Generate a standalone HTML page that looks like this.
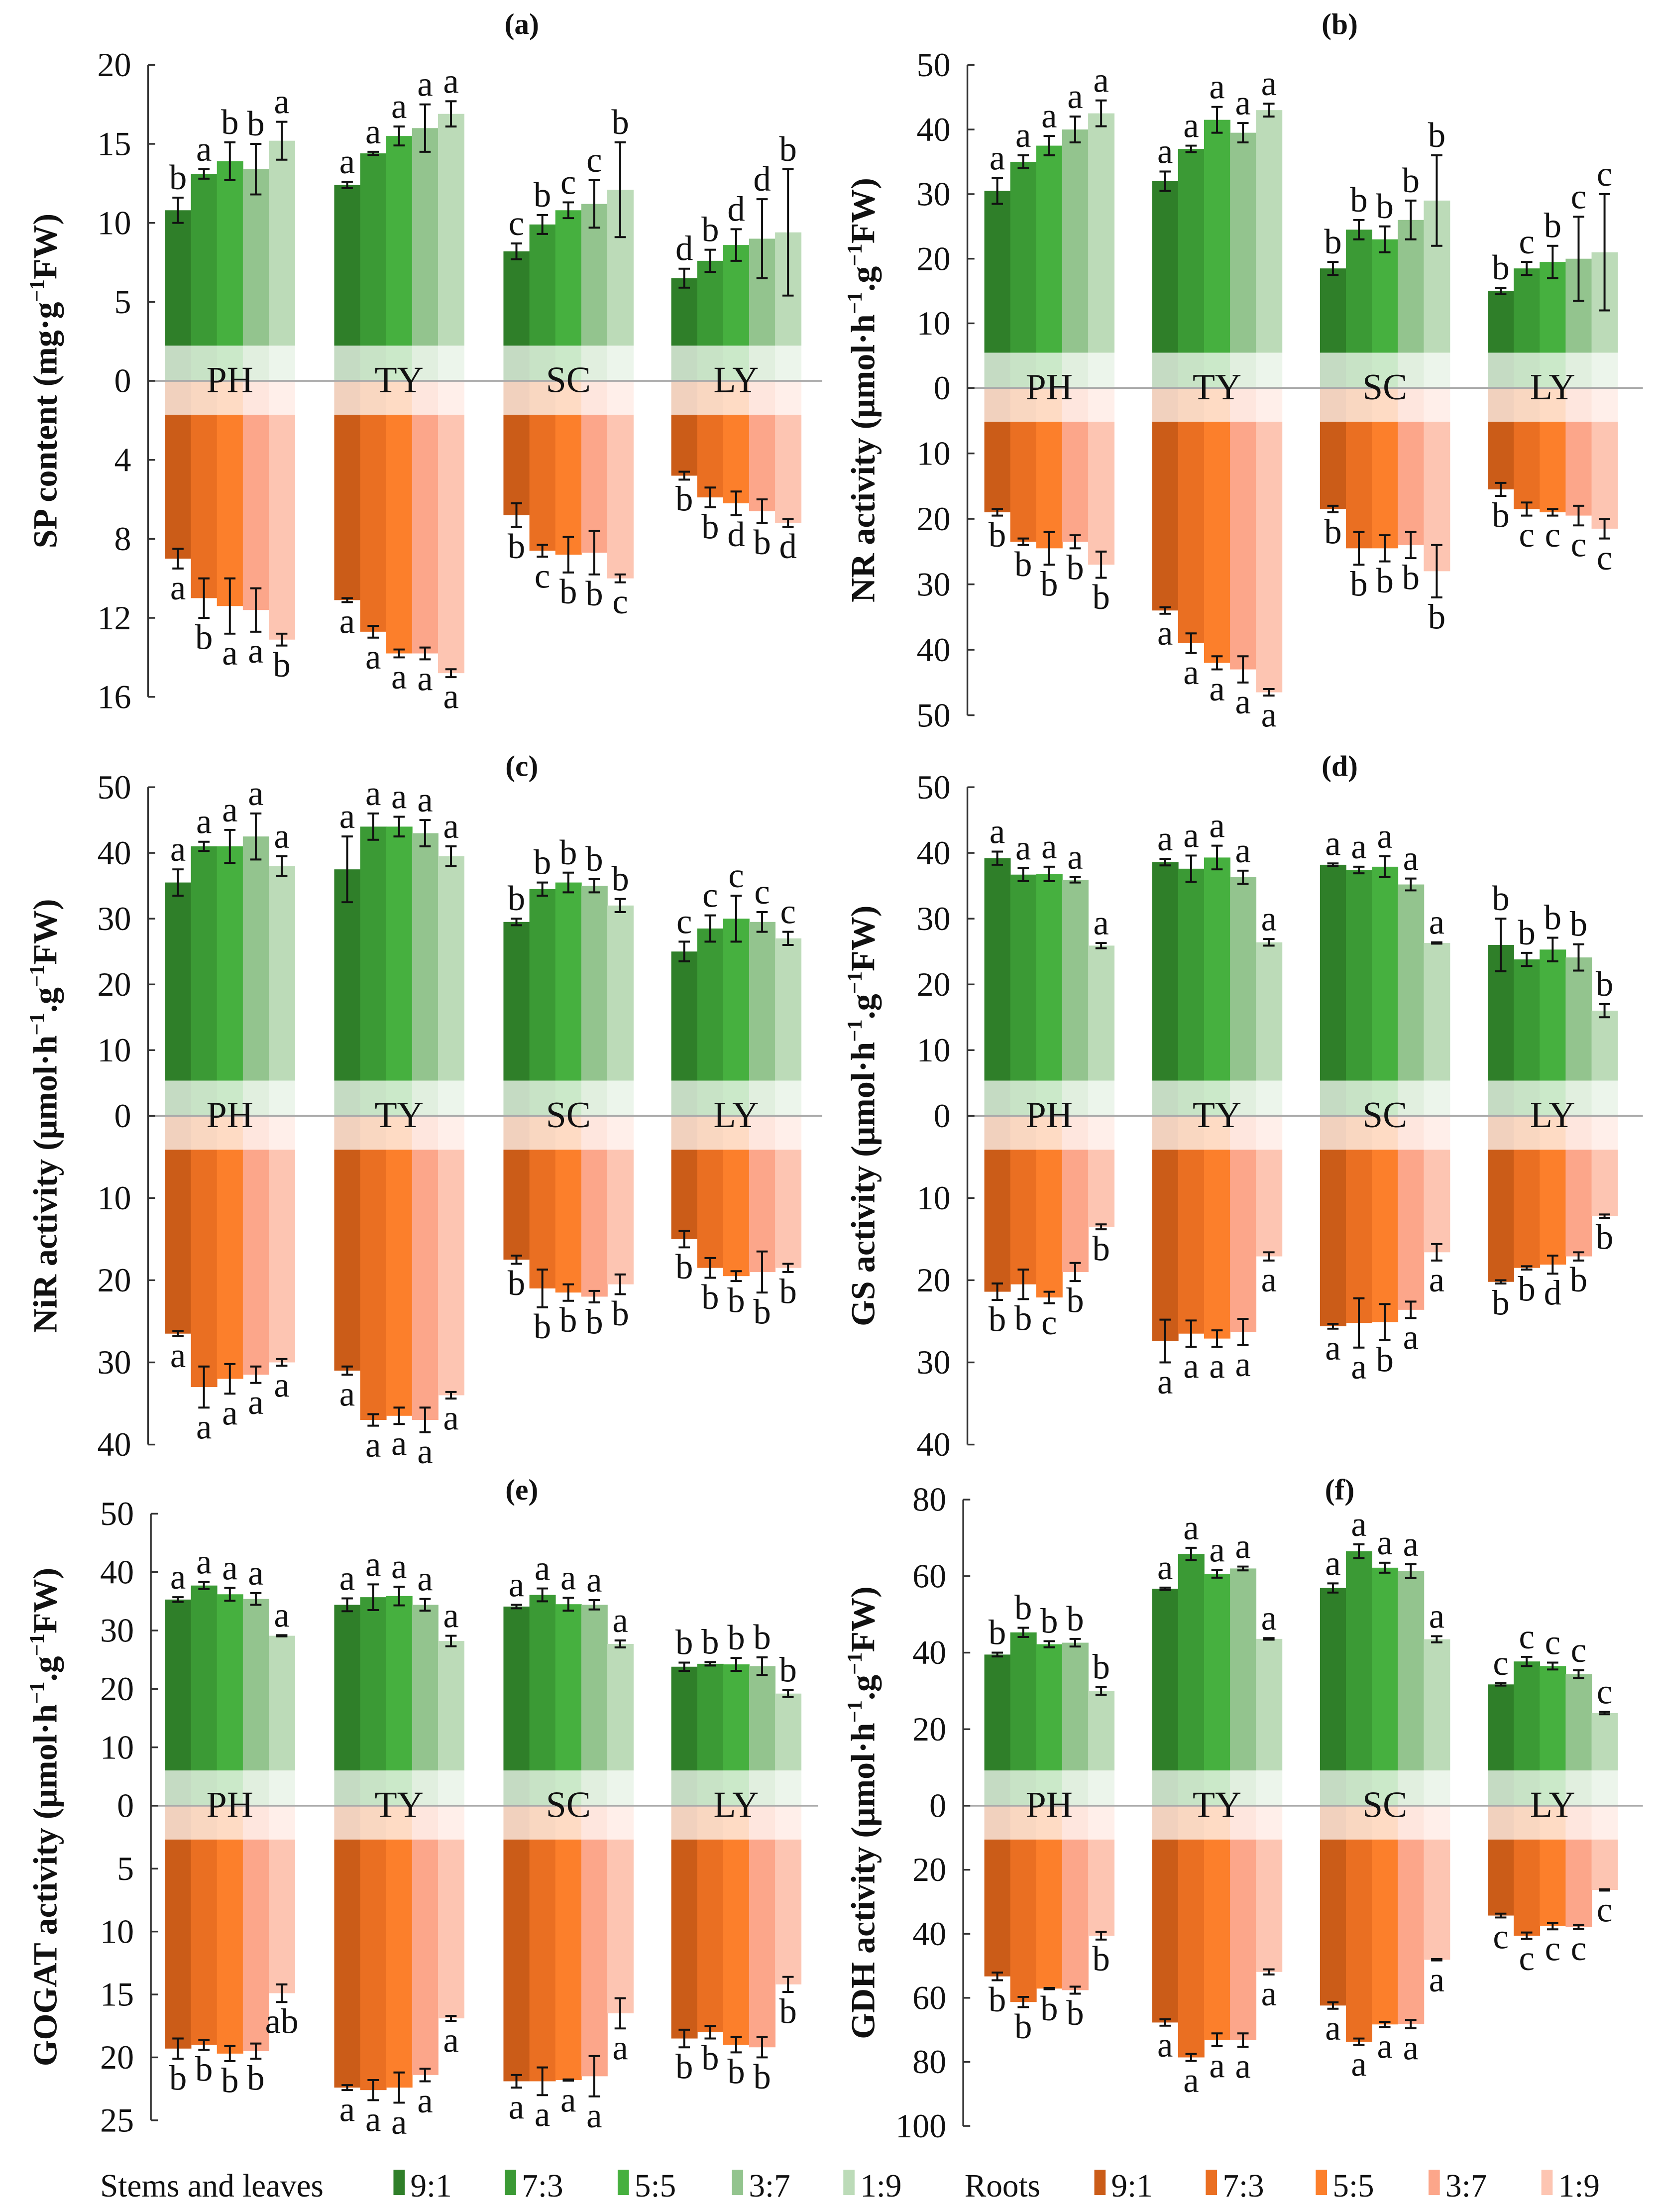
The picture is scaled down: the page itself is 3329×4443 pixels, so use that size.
<!DOCTYPE html>
<html><head><meta charset="utf-8">
<style>
html,body{margin:0;padding:0;background:#fff;}
svg{display:block;}
text{font-family:"Liberation Serif",serif;fill:#111;}
</style></head>
<body>
<svg id="fig" xmlns="http://www.w3.org/2000/svg" width="3329" height="4443" viewBox="0 0 1175 1568" preserveAspectRatio="none">
<rect x="0" y="0" width="1175" height="1568" fill="#fff"/>
</svg>
<script>
const groups = ["PH","TY","SC","LY"];
const ratios = ["9:1","7:3","5:5","3:7","1:9"];
const greens = ["#2f7f29","#3b9a35","#46b03f","#93c48e","#bcdbb8"];
const oranges = ["#cb5c18","#ea6f22","#fc7f2b","#fca68a","#fdc5b2"];

// (a) SP content
const aTop = [[10.8,13.1,13.9,13.4,15.2],[12.4,14.4,15.5,16.0,16.9],[8.2,9.9,10.8,11.2,12.1],[6.5,7.6,8.6,9.0,9.4]];
const aTopErr = [[0.8,0.3,1.2,1.6,1.2],[0.2,0.1,0.6,1.5,0.8],[0.5,0.6,0.5,1.5,3.0],[0.6,0.7,1.0,2.5,4.0]];
const aTopLet = [["b","a","b","b","a"],["a","a","a","a","a"],["c","b","c","c","b"],["d","b","d","d","b"]];
const aBot = [[9.0,11.0,11.4,11.6,13.1],[11.1,12.7,13.8,13.8,14.8],[6.8,8.6,8.8,8.7,10.0],[4.8,5.9,6.2,6.6,7.2]];
const aBotErr = [[0.5,1.0,1.4,1.1,0.3],[0.1,0.3,0.2,0.3,0.2],[0.6,0.3,0.9,1.1,0.2],[0.2,0.5,0.6,0.6,0.2]];
const aBotLet = [["a","b","a","a","b"],["a","a","a","a","a"],["b","c","b","b","c"],["b","b","d","b","d"]];
// (b) NR activity
const bTop = [[30.5,35,37.5,40,42.5],[32,37,41.5,39.5,43],[18.5,24.5,23,26,29],[15,18.5,19.5,20,21]];
const bTopErr = [[2,1,1.5,2,2],[1.5,0.5,2,1.5,1],[1,1.5,2,3,7],[0.5,1,2.5,6.5,9]];
const bTopLet = [["a","a","a","a","a"],["a","a","a","a","a"],["b","b","b","b","b"],["b","c","b","c","c"]];
const bBot = [[19,23.5,24.5,23.5,27],[34,39,42,43,46.5],[18.5,24.5,24.5,24,28],[15.5,18.5,19,19.5,21.5]];
const bBotErr = [[0.5,0.5,2.5,1,2],[0.5,1.5,1,2,0.5],[0.5,2.5,2,2,4],[1,1,0.5,1.5,1.5]];
const bBotLet = [["b","b","b","b","b"],["a","a","a","a","a"],["b","b","b","b","b"],["b","c","c","c","c"]];
// (c) NiR activity
const cTop = [[35.5,41,41,42.5,38],[37.5,44,44,43,39.5],[29.5,34.5,35.5,35,32],[25,28.5,30,29.5,27]];
const cTopErr = [[2,0.7,2.5,3.5,1.5],[5,2,1.5,2,1.5],[0.5,1,1.5,1,1],[1.5,2,3.5,1.5,1]];
const cTopLet = [["a","a","a","a","a"],["a","a","a","a","a"],["b","b","b","b","b"],["c","c","c","c","c"]];
const cBot = [[26.5,33,32,31.5,30],[31,37,36.5,37,34],[17.5,21,21.5,22,20.5],[15,18.5,19.5,19,18.5]];
const cBotErr = [[0.3,2.5,1.8,1,0.4],[0.5,0.7,1,1.5,0.4],[0.5,2.3,1,0.7,1.2],[1,1.2,0.6,2.5,0.5]];
const cBotLet = [["a","a","a","a","a"],["a","a","a","a","a"],["b","b","b","b","b"],["b","b","b","b","b"]];
// (d) GS activity
const dTop = [[39.2,36.7,36.8,35.9,25.9],[38.6,37.6,39.3,36.3,26.4],[38.2,37.4,37.9,35.2,26.3],[26,23.8,25.3,24.1,16]];
const dTopErr = [[1,1,1.1,0.4,0.4],[0.5,2,1.8,1,0.5],[0.2,0.5,1.6,0.9,0.1],[4,1,1.8,2,1]];
const dTopLet = [["a","a","a","a","a"],["a","a","a","a","a"],["a","a","a","a","a"],["b","b","b","b","b"]];
const dBot = [[21.4,20.5,22.1,19,13.5],[27.4,26.5,27.1,26.3,17.1],[25.6,25.2,25.1,23.6,16.6],[20.2,18.5,18.1,17.1,12.2]];
const dBotErr = [[1,1.8,0.7,1.1,0.3],[2.6,1.6,1,1.6,0.5],[0.3,3,2.2,1,1],[0.2,0.2,1.1,0.5,0.2]];
const dBotLet = [["b","b","c","b","b"],["a","a","a","a","a"],["a","a","b","a","a"],["b","b","d","b","b"]];
// (e) GOGAT activity
const eTop = [[35.3,37.7,36.2,35.4,29.1],[34.4,35.7,35.9,34.4,28.2],[34.1,36.1,34.5,34.4,27.7],[23.8,24.3,24.2,23.9,19.2]];
const eTopErr = [[0.4,0.6,1.1,1,0.1],[1.1,2.2,1.6,1,0.9],[0.3,1.1,1.1,0.8,0.6],[0.7,0.3,1.1,1.5,0.6]];
const eTopLet = [["a","a","a","a","a"],["a","a","a","a","a"],["a","a","a","a","a"],["b","b","b","b","b"]];
const eBot = [[19.3,19,19.7,19.5,14.9],[22.4,22.6,22.4,21.4,16.9],[21.9,21.9,21.8,21.5,16.5],[18.5,18,19,19.2,14.2]];
const eBotErr = [[0.8,0.4,0.6,0.6,0.7],[0.2,0.8,1.2,0.5,0.2],[0.5,1.1,0.05,1.6,1.2],[0.7,0.5,0.6,0.8,0.6]];
const eBotLet = [["b","b","b","b","ab"],["a","a","a","a","a"],["a","a","a","a","a"],["b","b","b","b","b"]];
// (f) GDH activity
const fTop = [[39.5,45.3,42.2,42.6,30],[56.7,65.8,60.6,62,43.6],[56.9,66.5,62.2,61.3,43.5],[31.7,37.7,36.5,34.4,24.2]];
const fTopErr = [[0.5,1.2,0.8,1,1],[0.3,1.6,1,0.5,0.2],[1.2,1.8,1.3,1.8,0.8],[0.3,1.2,0.9,1,0.3]];
const fTopLet = [["b","b","b","b","b"],["a","a","a","a","a"],["a","a","a","a","a"],["c","c","c","c","c"]];
const fBot = [[53.3,61.3,57.1,57.6,40.6],[67.7,78.6,73.1,73.2,51.9],[62.4,73.7,68.3,68.2,48.1],[34.3,40.6,37.6,37.9,26.3]];
const fBotErr = [[1.2,1.6,0.2,1.1,1.2],[1,1.1,2,2.1,0.8],[1,1,0.8,1.3,0.2],[0.6,1,1,0.6,0.2]];
const fBotLet = [["b","b","b","b","b"],["a","a","a","a","a"],["a","a","a","a","a"],["c","c","c","c","c"]];

const NS = "http://www.w3.org/2000/svg";
const svg = document.getElementById("fig");
function mk(tag, attrs, parent){
  const el = document.createElementNS(NS, tag);
  for (const k in attrs) el.setAttribute(k, attrs[k]);
  (parent||svg).appendChild(el);
  return el;
}

const leftStarts = [117,237,357,476];
const rightStarts = [698,817,936,1055];
const panels = [
  {id:"a", label:"(a)", lx:370, ly:24, axisX:105, starts:leftStarts, endX:583, zero:270, topMax:20, topPx:46, topTicks:[0,5,10,15,20], botMax:16, botPx:494, botTicks:[4,8,12,16],
   top:aTop, topErr:aTopErr, topLet:aTopLet, bot:aBot, botErr:aBotErr, botLet:aBotLet, title:["SP content (mg·g","−1","FW)"], tx:40},
  {id:"b", label:"(b)", lx:950, ly:24, axisX:686, starts:rightStarts, endX:1165, zero:275, topMax:50, topPx:46, topTicks:[0,10,20,30,40,50], botMax:50, botPx:507, botTicks:[10,20,30,40,50],
   top:bTop, topErr:bTopErr, topLet:bTopLet, bot:bBot, botErr:bBotErr, botLet:bBotLet, title:["NR activity (μmol·h","−1",".g","−1","FW)"], tx:620},
  {id:"c", label:"(c)", lx:370, ly:550, axisX:105, starts:leftStarts, endX:583, zero:791, topMax:50, topPx:558, topTicks:[0,10,20,30,40,50], botMax:40, botPx:1024, botTicks:[10,20,30,40],
   top:cTop, topErr:cTopErr, topLet:cTopLet, bot:cBot, botErr:cBotErr, botLet:cBotLet, title:["NiR activity (μmol·h","−1",".g","−1","FW)"], tx:40},
  {id:"d", label:"(d)", lx:950, ly:550, axisX:686, starts:rightStarts, endX:1165, zero:791, topMax:50, topPx:558, topTicks:[0,10,20,30,40,50], botMax:40, botPx:1024, botTicks:[10,20,30,40],
   top:dTop, topErr:dTopErr, topLet:dTopLet, bot:dBot, botErr:dBotErr, botLet:dBotLet, title:["GS activity (μmol·h","−1",".g","−1","FW)"], tx:620},
  {id:"e", label:"(e)", lx:370, ly:1063, axisX:107, starts:leftStarts, endX:580, zero:1280, topMax:50, topPx:1073, topTicks:[0,10,20,30,40,50], botMax:25, botPx:1503, botTicks:[5,10,15,20,25],
   top:eTop, topErr:eTopErr, topLet:eTopLet, bot:eBot, botErr:eBotErr, botLet:eBotLet, title:["GOGAT activity (μmol·h","−1",".g","−1","FW)"], tx:40},
  {id:"f", label:"(f)", lx:950, ly:1063, axisX:683, starts:rightStarts, endX:1165, zero:1280, topMax:80, topPx:1063, topTicks:[0,20,40,60,80], botMax:100, botPx:1507, botTicks:[20,40,60,80,100],
   top:fTop, topErr:fTopErr, topLet:fTopLet, bot:fBot, botErr:fBotErr, botLet:fBotLet, title:["GDH activity (μmol·h","−1",".g","−1","FW)"], tx:620}
];

const BW = 18.4;
panels.forEach(p => {
  const g = mk("g", {});
  
  
  const yTop = v => p.zero - v/p.topMax*(p.zero - p.topPx);
  const yBot = v => p.zero + v/p.botMax*(p.botPx - p.zero);

  for (let gi=0; gi<groups.length; gi++){
    for (let i=0;i<5;i++){
      const x = p.starts[gi] + i*BW;
      const vt = p.top[gi][i];
      const r1 = mk("rect",{x:x, y:yTop(vt), width:BW+0.3, height:p.zero-yTop(vt), fill:greens[i]}, g);
      
      
      const vb = p.bot[gi][i];
      const r2 = mk("rect",{x:x, y:p.zero, width:BW+0.3, height:yBot(vb)-p.zero, fill:oranges[i]}, g);
      
      
    }
    const band = mk("rect",{x:p.starts[gi]-0.5, y:p.zero-25, width:BW*5+1.5, height:49, fill:"#fff", opacity:0.72}, g);
    
    
  }
  const zl = mk("line",{x1:p.axisX, x2:p.endX, y1:p.zero, y2:p.zero, stroke:"#aaa", "stroke-width":1.3}, g);
  
  
  for (let gi=0; gi<groups.length; gi++){
    const t = mk("text",{x:p.starts[gi]+BW*2.5, y:p.zero+8, "font-size":26, "text-anchor":"middle"}, g);
    t.textContent = groups[gi];
    
    
  }
  for (let gi=0; gi<groups.length; gi++){
    for (let i=0;i<5;i++){
      const cx = p.starts[gi] + i*BW + BW/2;
      const vt = p.top[gi][i], et = p.topErr[gi][i];
      const y1 = yTop(vt+et), y2 = yTop(vt-et);
      const eb = mk("path",{d:`M${cx},${y1}V${y2}M${cx-4},${y1}H${cx+4}M${cx-4},${y2}H${cx+4}`, stroke:"#111", "stroke-width":1.4, fill:"none"}, g);
      
      
      const lt = mk("text",{x:cx, y:y1-6, "font-size":25, "text-anchor":"middle"}, g);
      lt.textContent = p.topLet[gi][i];
      
      

      const vb = p.bot[gi][i], ebv = p.botErr[gi][i];
      const b1 = yBot(vb-ebv), b2 = yBot(vb+ebv);
      const eb2 = mk("path",{d:`M${cx},${b1}V${b2}M${cx-4},${b1}H${cx+4}M${cx-4},${b2}H${cx+4}`, stroke:"#111", "stroke-width":1.4, fill:"none"}, g);
      
      
      const lb = mk("text",{x:cx, y:b2+22, "font-size":25, "text-anchor":"middle"}, g);
      lb.textContent = p.botLet[gi][i];
      
      
    }
  }
  const ax = mk("line",{x1:p.axisX, x2:p.axisX, y1:p.topPx, y2:p.botPx, stroke:"#333", "stroke-width":1.2}, g);
  
  
  p.topTicks.forEach(v => {
    const y = yTop(v);
    mk("line",{x1:p.axisX, x2:p.axisX+5, y1:y, y2:y, stroke:"#333", "stroke-width":1.2}, g);
    const t = mk("text",{x:p.axisX-12, y:y+8, "font-size":24, "text-anchor":"end"}, g);
    t.textContent = v;
    
    
  });
  p.botTicks.forEach(v => {
    const y = yBot(v);
    mk("line",{x1:p.axisX, x2:p.axisX+5, y1:y, y2:y, stroke:"#333", "stroke-width":1.2}, g);
    const t = mk("text",{x:p.axisX-12, y:y+8, "font-size":24, "text-anchor":"end"}, g);
    t.textContent = v;
    
    
  });
  const pl = mk("text",{x:p.lx, y:p.ly, "font-size":21, "font-weight":"bold", "text-anchor":"middle"}, g);
  pl.textContent = p.label;
  
  
  const cy = (p.topPx + p.botPx)/2;
  const tt = mk("text",{x:0, y:0, "font-size":24, "font-weight":"bold", "text-anchor":"middle", transform:`translate(${p.tx},${cy}) rotate(-90)`}, g);
  
  
  p.title.forEach((s, k) => {
    const ts = mk("tspan", {}, tt);
    if (s === "−1"){ ts.setAttribute("font-size", "15"); ts.setAttribute("dy", "-9"); }
    else if (k>0){ ts.setAttribute("dy", "9"); }
    ts.textContent = s;
  });
});

const lg = mk("g", {});


const legY = 1557;
const l1 = mk("text",{x:71, y:legY, "font-size":23}, lg);
l1.textContent = "Stems and leaves";


const l2 = mk("text",{x:684, y:legY, "font-size":23}, lg);
l2.textContent = "Roots";


const gx = [279,358,438,519,598];
const ox = [776,855,933,1013,1093];
ratios.forEach((r,i) => {
  const s1 = mk("rect",{x:gx[i], y:legY-19, width:8, height:18, fill:greens[i]}, lg);
  
  
  const t1 = mk("text",{x:gx[i]+12, y:legY, "font-size":23}, lg);
  t1.textContent = r;
  
  
  const s2 = mk("rect",{x:ox[i], y:legY-19, width:8, height:18, fill:oranges[i]}, lg);
  
  
  const t2 = mk("text",{x:ox[i]+12, y:legY, "font-size":23}, lg);
  t2.textContent = r;
  
  
});
</script>
</body></html>
